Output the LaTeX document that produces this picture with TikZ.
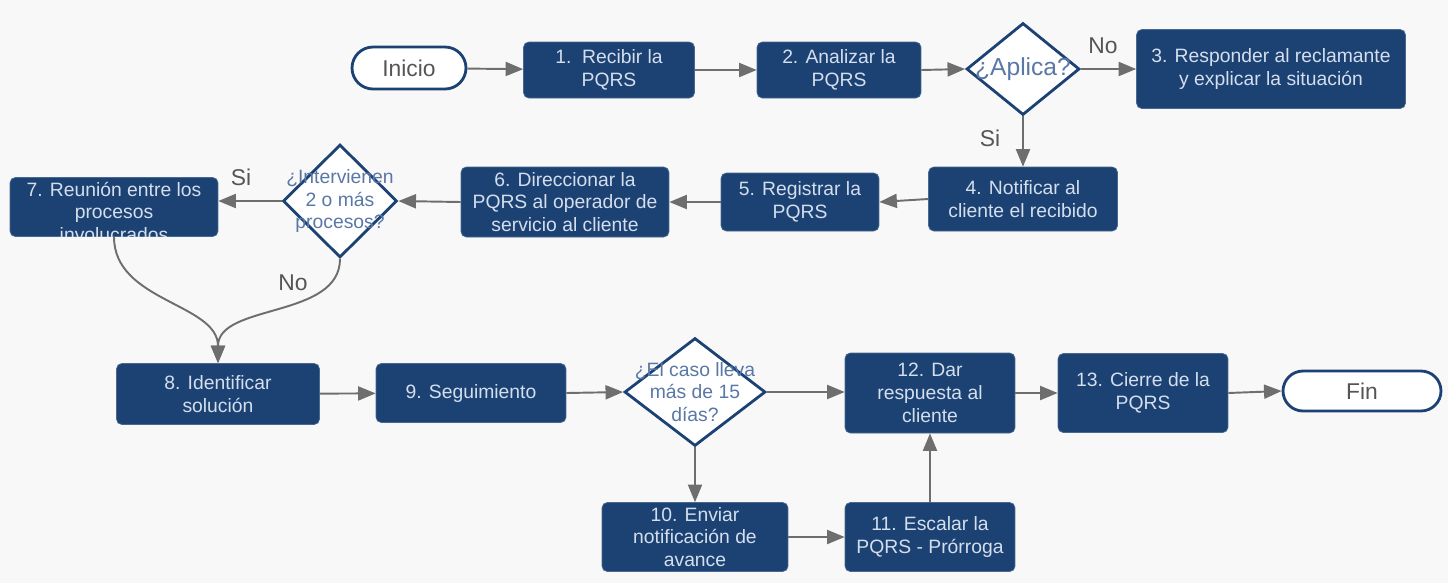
\documentclass[tikz,border=0pt]{standalone}
\usepackage{fontspec}
\setmainfont{Liberation Sans}
\usepackage{xcolor}
\usetikzlibrary{positioning}
\usetikzlibrary{shapes.geometric}
\usetikzlibrary{arrows.meta}
\definecolor{pqrsblue}{HTML}{1C4274}
\definecolor{pqrstext}{HTML}{D4DEEC}
\definecolor{dectext}{HTML}{5A78A6}
\definecolor{linegray}{HTML}{6E6E6E}
\definecolor{labelgray}{HTML}{555555}
\definecolor{canvas}{HTML}{F8F8F8}
\tikzset{%
  stepbox/.style={rectangle,rounded corners=3pt,fill=pqrsblue,draw=pqrsblue!80!white,thin,text=pqrstext,align=center,inner sep=2pt,font=\fontsize{11pt}{13pt}\selectfont}
}
\tikzset{%
  decbox/.style={diamond,fill=white,draw=pqrsblue,line width=1.6pt,inner sep=0pt}
}
\tikzset{%
  dectextbox/.style={text=dectext,align=center,inner sep=0pt,font=\fontsize{11pt}{13pt}\selectfont}
}
\tikzset{%
  termbox/.style={rectangle,rounded corners=12pt,fill=white,draw=pqrsblue,line width=1.6pt,text=labelgray,font=\fontsize{13pt}{15pt}\selectfont}
}
\tikzset{%
  flow/.style={draw=linegray,line width=1.1pt,-{Triangle[length=10pt,width=8pt]}},
  flowlabel/.style={text=labelgray,font=\fontsize{13pt}{15pt}\selectfont,inner sep=0pt}
}

\begin{document}
\begin{tikzpicture}[x=0.02cm,y=-0.02cm,node distance=1mm]
            \fill[canvas] (0,0) rectangle (1448,583);
            \useasboundingbox (0,0) rectangle (1448,583);

            \node[termbox,minimum width=2.28cm,minimum height=0.84cm,rounded corners=0.42cm](inicio) at (409,68){Inicio};
            \node[stepbox,minimum width=3.42cm,minimum height=1.12cm](recibir) at (609,70){1.~~Recibir la\\PQRS};
            \node[stepbox,minimum width=3.28cm,minimum height=1.12cm](analizar) at (839,70){2. Analizar la\\PQRS};
            \node[decbox,minimum width=2.26cm,minimum height=1.84cm](aplica) at (1023,69){};
            \node[dectextbox,font=\fontsize{14pt}{16pt}\selectfont](aplicatext) at (aplica){¿Aplica?};
            \node[stepbox,minimum width=5.38cm,minimum height=1.58cm](responder) at (1271,69){3. Responder al reclamante\\y explicar la situación};

            \node[stepbox,minimum width=3.78cm,minimum height=1.28cm](notificar) at (1023,199){4. Notificar al\\cliente el recibido};
            \node[stepbox,minimum width=3.16cm,minimum height=1.16cm](registrar) at (800,202){5. Registrar la\\PQRS};
            \node[stepbox,minimum width=4.16cm,minimum height=1.40cm](direccionar) at (565,202){6. Direccionar la\\PQRS al operador de\\servicio al cliente};
            \node[decbox,minimum width=2.28cm,minimum height=2.26cm](intervienen) at (340,201){};
            \node[dectextbox](interviententext) at (intervienen){¿Intervienen\\2 o más\\procesos?};
            \node[stepbox,minimum width=4.16cm,minimum height=1.18cm](reunion) at (114,207){};
            \begin{scope}
              \clip[rounded corners=3pt] (reunion.south west) rectangle (reunion.north east);
              \node[stepbox,fill=none,draw=none,anchor=north](reuniontext) at (114,178){7. Reunión entre los\\procesos\\involucrados};
            \end{scope}

            \node[stepbox,minimum width=4.06cm,minimum height=1.22cm](identificar) at (218,394){8. Identificar\\solución};
            \node[stepbox,minimum width=3.80cm,minimum height=1.18cm](seguimiento) at (471,393){9. Seguimiento};
            \node[decbox,minimum width=2.82cm,minimum height=2.16cm](caso) at (695,392){};
            \node[dectextbox](casotext) at (caso){¿El caso lleva\\más de 15\\días?};
            \node[stepbox,minimum width=3.40cm,minimum height=1.60cm](respuesta) at (930,393){12. Dar\\respuesta al\\cliente};
            \node[stepbox,minimum width=3.40cm,minimum height=1.58cm](cierre) at (1143,393){13. Cierre de la\\PQRS};
            \node[termbox,minimum width=3.16cm,minimum height=0.80cm,rounded corners=0.40cm](fin) at (1362,391){Fin};

            \node[stepbox,minimum width=3.72cm,minimum height=1.38cm](enviar) at (695,537){10. Enviar\\notificación de\\avance};
            \node[stepbox,minimum width=3.40cm,minimum height=1.38cm](escalar) at (930,537){11. Escalar la\\PQRS - Prórroga};

            \draw[flow] (inicio) -- (recibir);
            \draw[flow] (recibir) -- (analizar);
            \draw[flow] (analizar.east) -- (aplica.west);
            \draw[flow] (aplica.east) -- (aplica.east -| responder.west);
            \draw[flow] (aplica) -- (notificar);
            \draw[flow] (notificar.west) -- (registrar.east);
            \draw[flow] (registrar) -- (direccionar);
            \draw[flow] (direccionar.west) -- (intervienen.east);
            \draw[flow] (intervienen.west) -- (intervienen.west -| reunion.east);
            \draw[flow] (reunion.south) .. controls +(0,65) and +(0,-60) .. (identificar.north);
            \draw[flow] (intervienen.south) .. controls +(0,60) and +(0,-60) .. (identificar.north);
            \draw[flow] (identificar) -- (seguimiento);
            \draw[flow] (seguimiento.east) -- (caso.west);
            \draw[flow] (caso.east) -- (caso.east -| respuesta.west);
            \draw[flow] (caso) -- (enviar);
            \draw[flow] (enviar) -- (escalar);
            \draw[flow] (escalar) -- (respuesta);
            \draw[flow] (respuesta) -- (cierre);
            \draw[flow] (cierre.east) -- (fin.west);

            \node[flowlabel](aplicano) at (1103,46){No};
            \node[flowlabel](aplicasi) at (990,138){Si};
            \node[flowlabel](intervienensi) at (241,177){Si};
            \node[flowlabel](intervienenno) at (293,283){No};
        \end{tikzpicture}
\end{document}
